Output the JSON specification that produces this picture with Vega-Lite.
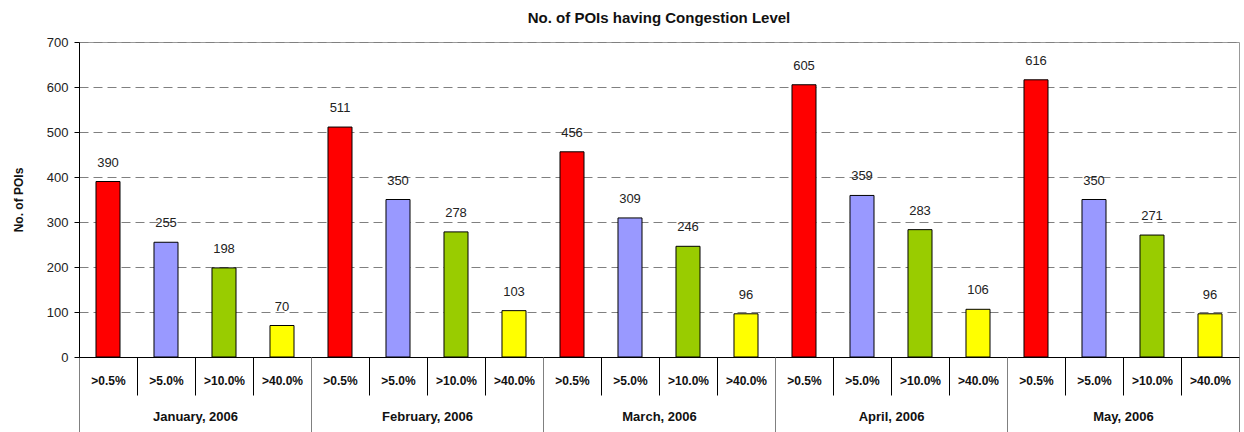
{
  "$schema": "https://vega.github.io/schema/vega-lite/v6.json",
  "autosize": "none",
  "width": 1160,
  "height": 315,
  "padding": {"left": 79, "top": 42, "right": 5, "bottom": 75},
  "background": "white",
  "title": {
    "text": "No. of POIs having Congestion Level",
    "font": "Liberation Sans",
    "fontSize": 15,
    "fontWeight": "bold",
    "color": "#111111",
    "offset": 10,
    "anchor": "middle"
  },
  "config": {
    "view": {"stroke": "#999999", "strokeWidth": 1},
    "font": "Liberation Sans"
  },
  "data": {
    "values": [
      {"month": "January, 2006", "level": ">0.5%", "key": "January, 2006|>0.5%", "value": 390},
      {"month": "January, 2006", "level": ">5.0%", "key": "January, 2006|>5.0%", "value": 255},
      {"month": "January, 2006", "level": ">10.0%", "key": "January, 2006|>10.0%", "value": 198},
      {"month": "January, 2006", "level": ">40.0%", "key": "January, 2006|>40.0%", "value": 70},
      {"month": "February, 2006", "level": ">0.5%", "key": "February, 2006|>0.5%", "value": 511},
      {"month": "February, 2006", "level": ">5.0%", "key": "February, 2006|>5.0%", "value": 350},
      {"month": "February, 2006", "level": ">10.0%", "key": "February, 2006|>10.0%", "value": 278},
      {"month": "February, 2006", "level": ">40.0%", "key": "February, 2006|>40.0%", "value": 103},
      {"month": "March, 2006", "level": ">0.5%", "key": "March, 2006|>0.5%", "value": 456},
      {"month": "March, 2006", "level": ">5.0%", "key": "March, 2006|>5.0%", "value": 309},
      {"month": "March, 2006", "level": ">10.0%", "key": "March, 2006|>10.0%", "value": 246},
      {"month": "March, 2006", "level": ">40.0%", "key": "March, 2006|>40.0%", "value": 96},
      {"month": "April, 2006", "level": ">0.5%", "key": "April, 2006|>0.5%", "value": 605},
      {"month": "April, 2006", "level": ">5.0%", "key": "April, 2006|>5.0%", "value": 359},
      {"month": "April, 2006", "level": ">10.0%", "key": "April, 2006|>10.0%", "value": 283},
      {"month": "April, 2006", "level": ">40.0%", "key": "April, 2006|>40.0%", "value": 106},
      {"month": "May, 2006", "level": ">0.5%", "key": "May, 2006|>0.5%", "value": 616},
      {"month": "May, 2006", "level": ">5.0%", "key": "May, 2006|>5.0%", "value": 350},
      {"month": "May, 2006", "level": ">10.0%", "key": "May, 2006|>10.0%", "value": 271},
      {"month": "May, 2006", "level": ">40.0%", "key": "May, 2006|>40.0%", "value": 96}
    ]
  },
  "layer": [
    {
      "encoding": {
        "x": {
          "field": "key",
          "type": "nominal",
          "sort": null,
          "scale": {"paddingInner": 0, "paddingOuter": 0},
          "axis": {
            "orient": "bottom",
            "title": null,
            "labelExpr": "split(datum.value, '|')[1]",
            "labelAngle": 0,
            "labelFont": "Liberation Sans",
            "labelFontSize": 12,
            "labelFontWeight": "bold",
            "labelColor": "#111111",
            "labelBaseline": "top",
            "labelPadding": -20,
            "tickBand": "extent",
            "tickSize": 38,
            "tickColor": "#000000",
            "domainColor": "#000000",
            "grid": false
          }
        },
        "y": {
          "field": "value",
          "type": "quantitative",
          "scale": {"domain": [0, 700]},
          "axis": {
            "title": "No. of POIs",
            "titleFont": "Liberation Sans",
            "titleFontSize": 12,
            "titleFontWeight": "bold",
            "titleColor": "#111111",
            "titlePadding": 21,
            "values": [0, 100, 200, 300, 400, 500, 600, 700],
            "labelFont": "Liberation Sans",
            "labelFontSize": 13,
            "labelColor": "#222222",
            "labelPadding": 6,
            "tickSize": 5,
            "tickColor": "#000000",
            "domainColor": "#000000",
            "grid": true,
            "gridColor": "#808080",
            "gridDash": [9, 5],
            "gridWidth": 1
          }
        }
      },
      "layer": [
        {
          "mark": {"type": "bar", "stroke": "#000000", "strokeWidth": 1, "width": {"band": 0.414}},
          "encoding": {
            "color": {
              "field": "level",
              "type": "nominal",
              "scale": {
                "domain": [">0.5%", ">5.0%", ">10.0%", ">40.0%"],
                "range": ["#FF0000", "#9999FF", "#99CC00", "#FFFF00"]
              },
              "legend": null
            }
          }
        },
        {
          "mark": {"type": "text", "dy": -15, "baseline": "alphabetic", "font": "Liberation Sans", "fontSize": 13, "color": "#222222"},
          "encoding": {"text": {"field": "value", "type": "quantitative"}}
        }
      ]
    },
    {
      "mark": {"type": "tick", "opacity": 0},
      "encoding": {
        "x": {
          "field": "month",
          "type": "nominal",
          "sort": null,
          "scale": {"paddingInner": 0, "paddingOuter": 0},
          "axis": {
            "orient": "bottom",
            "title": null,
            "labelAngle": 0,
            "labelFont": "Liberation Sans",
            "labelFontSize": 13,
            "labelFontWeight": "bold",
            "labelColor": "#111111",
            "labelBaseline": "top",
            "labelPadding": -22,
            "tickBand": "extent",
            "tickSize": 75,
            "tickColor": "#808080",
            "domain": false,
            "grid": false
          }
        }
      }
    }
  ],
  "resolve": {"scale": {"x": "independent"}, "axis": {"x": "independent"}}
}
